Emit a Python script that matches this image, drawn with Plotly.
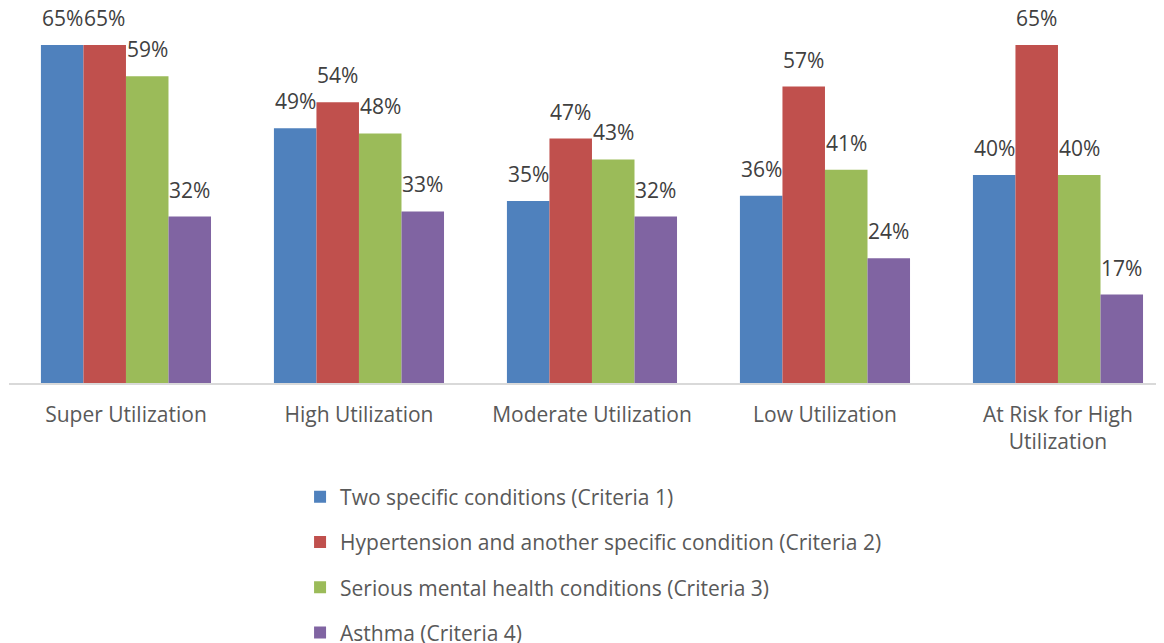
import plotly.graph_objects as go

categories = ["Super Utilization", "High Utilization", "Moderate Utilization",
              "Low Utilization", "At Risk for High<br>Utilization"]
series_names = ["Two specific conditions (Criteria 1)",
                "Hypertension and another specific condition (Criteria 2)",
                "Serious mental health conditions (Criteria 3)",
                "Asthma (Criteria 4)"]
criteria1 = [65, 49, 35, 36, 40]
criteria2 = [65, 54, 47, 57, 65]
criteria3 = [59, 48, 43, 41, 40]
criteria4 = [32, 33, 32, 24, 17]
colors = ["#4F81BD", "#C0504D", "#9BBB59", "#8064A2"]

values = [criteria1, criteria2, criteria3, criteria4]
FONT = "Open Sans"
FS = 21
BARGAP = 0.27
n = len(values)
bw = (1 - BARGAP) / n

fig = go.Figure()
xidx = list(range(len(categories)))
annotations = []
for i, (name, vals, col) in enumerate(zip(series_names, values, colors)):
    fig.add_trace(go.Bar(
        x=xidx, y=vals, name=name, marker=dict(color=col, line=dict(width=0)),
        legendgroup=f"g{i}",
    ))
    off = (i - (n - 1) / 2) * bw
    for k, v in enumerate(vals):
        annotations.append(dict(
            x=k + off, y=v, xref="x", yref="y", text=f"{v}%", showarrow=False,
            yanchor="bottom", yshift=11, font=dict(family=FONT, size=FS, color="#404040"),
        ))

fig.update_layout(
    width=1156, height=635,
    margin=dict(l=1, r=0, t=11, b=260, autoexpand=False),
    paper_bgcolor="white", plot_bgcolor="white",
    barmode="group", bargap=BARGAP, bargroupgap=0,
    font=dict(family=FONT, size=FS, color="#595959"),
    annotations=annotations,
    showlegend=True,
    legend=dict(orientation="v", x=0.252, xanchor="left", y=-0.257, yanchor="top",
                font=dict(family=FONT, size=FS, color="#595959"),
                tracegroupgap=15, traceorder="grouped", itemwidth=30),
    xaxis=dict(tickmode="array", tickvals=xidx, ticktext=categories,
               range=[-0.502, 4.455], showline=True, linecolor="#D9D9D9", linewidth=1.5,
               ticks="", ticklabelstandoff=12, showgrid=False, zeroline=False,
               automargin=False,
               tickfont=dict(family=FONT, size=FS, color="#595959")),
    yaxis=dict(range=[0, 70], visible=False, showgrid=False, zeroline=False,
               automargin=False),
)

fig.write_html("out.html")
